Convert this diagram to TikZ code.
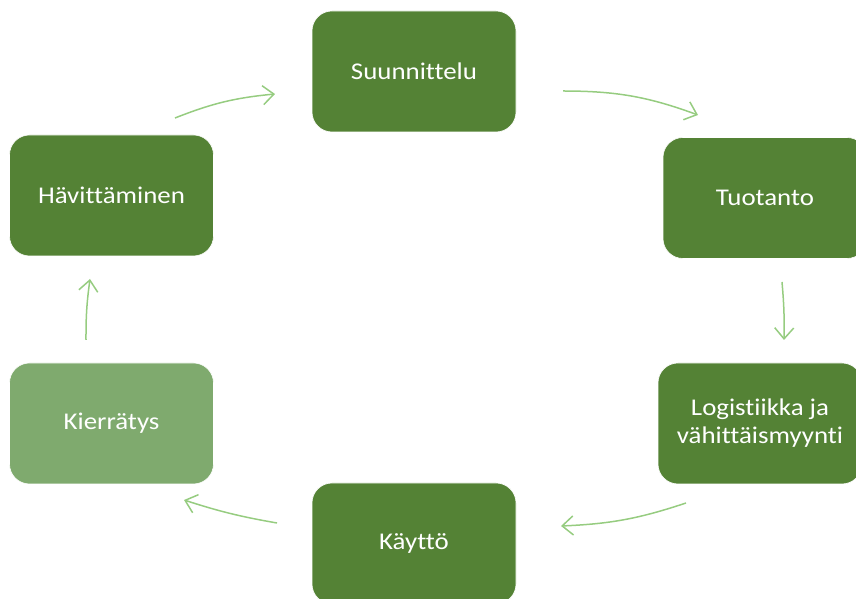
\documentclass[tikz,border=0pt]{standalone}
\usepackage{fontspec}
\setmainfont{Carlito}[Ligatures={NoCommon,NoRequired,NoContextual},FakeStretch=1.12]
\usetikzlibrary{arrows.meta}
\definecolor{boxdark}{RGB}{84,130,53}
\definecolor{boxlight}{RGB}{127,170,110}
\definecolor{arrowgreen}{RGB}{150,204,128}
\tikzset{
  stage/.style={rectangle, rounded corners=20pt, minimum width=204pt, minimum height=121pt,
    fill=boxdark, draw=white, line width=0.6pt, text=white, align=center,
    font=\fontsize{24}{28}\selectfont},
  stagelight/.style={stage, fill=boxlight},
  flow/.style={draw=arrowgreen, line width=1.5pt, -{Straight Barb[length=11pt,width=19pt,line width=1.5pt]}}
}
\begin{document}
\begin{tikzpicture}[x=1pt,y=1pt]
\useasboundingbox (0,0) rectangle (856,599);
\node[stage] (suun) at (414,527.5) {Suunnittelu};
\node[stage] (tuot) at (765,401) {Tuotanto};
\node[stage] (logi) at (760,175.5) {Logistiikka ja\\vähittäismyynti};
\node[stage] (kayt) at (414,55.5) {Käyttö};
\node[stagelight] (kier) at (111.5,175.5) {Kierrätys};
\node[stage] (havi) at (111.5,403.5) {Hävittäminen};
\coordinate (a1s) at (175,481); \coordinate (a1e) at (275,505);
\coordinate (a2s) at (563,508); \coordinate (a2e) at (698,484);
\coordinate (a3s) at (782,317); \coordinate (a3e) at (784,259);
\coordinate (a4s) at (686,96);  \coordinate (a4e) at (561,73);
\coordinate (a5s) at (277,76);  \coordinate (a5e) at (184,99);
\coordinate (a6s) at (86,259);  \coordinate (a6e) at (90,320);
\draw[flow] (a1s) to[bend left=8] (a1e);
\draw[flow] (a2s) to[bend left=10] (a2e);
\draw[flow] (a3s) to[bend left=3] (a3e);
\draw[flow] (a4s) to[bend left=8] (a4e);
\draw[flow] (a5s) to[bend left=4] (a5e);
\draw[flow] (a6s) to[bend left=4] (a6e);
\end{tikzpicture}
\end{document}
